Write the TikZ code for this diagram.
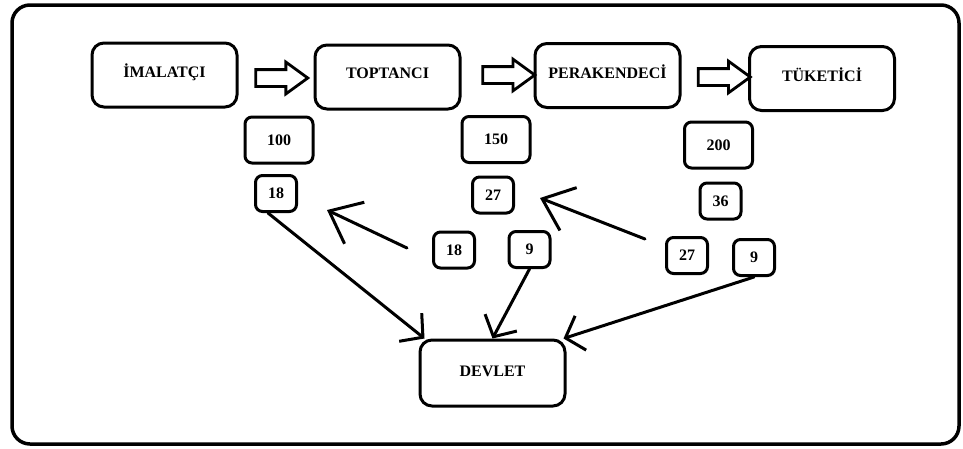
\documentclass[tikz,border=0pt]{standalone}
\usepackage{fontspec}
\setmainfont{Liberation Serif}
\usetikzlibrary{arrows.meta,shapes.arrows}

\begin{document}
\begin{tikzpicture}[x=1pt, y=-1pt,
  every node/.style={font=\bfseries\fontsize{16}{18}\selectfont},
  actor/.style={draw, line width=3pt, rounded corners=12pt, minimum width=145pt, minimum height=64pt, text depth=8pt},
  amount/.style={draw, line width=3pt, rounded corners=7pt, inner sep=0pt, minimum width=41pt, minimum height=36pt},
  bigamount/.style={amount, minimum width=68pt, minimum height=46pt},
  flow/.style={draw, line width=2.8pt, single arrow, single arrow head extend=7.5pt, single arrow tip angle=72, inner sep=7pt, minimum height=52pt},
  tax/.style={line width=3pt, line cap=round, -{Straight Barb[length=16pt, width=36pt]}},
  back/.style={line width=3pt, line cap=round, -{Straight Barb[length=28pt, width=46pt]}}]
  \useasboundingbox (0,0) rectangle (963,448);

  % Frame
  \draw[line width=3.5pt, rounded corners=18pt] (12,5) rectangle (959,444);

  % Chain
  \node[actor] (imal)  at (164.5,75)   {İMALATÇI};
  \node[actor] (topt)  at (387.5,77)   {TOPTANCI};
  \node[actor] (perak) at (607.5,75.5) {PERAKENDECİ};
  \node[actor] (tuket) at (822,78.5)   {TÜKETİCİ};

  % Flow arrows
  \node[flow] (a1) at (276,78)   {};
  \node[flow] (a2) at (503,75)   {};
  \node[flow] (a3) at (718.5,77) {};

  % Prices and taxes
  \node[bigamount] (v100) at (279,140)   {100};
  \node[amount]    (t18)  at (276,193.5) {18};
  \node[bigamount] (v150) at (496,139.5) {150};
  \node[amount]    (t27)  at (493,195)   {27};
  \node[bigamount] (v200) at (718.5,145) {200};
  \node[amount]    (t36)  at (720.5,201) {36};

  % Deductions and payments
  \node[amount] (m18) at (454,250)   {18};
  \node[amount] (m9)  at (529.5,249.5) {9};
  \node[amount] (r27) at (687,255.5) {27};
  \node[amount] (r9)  at (754,257.5) {9};

  % State
  \node[actor, minimum height=66pt, text depth=4pt] (devlet) at (492.5,373) {DEVLET};

  % Payments to the state
  \draw[tax] ([xshift=-8pt]t18.south) -- ([xshift=6pt]devlet.north west);
  \draw[tax] (m9.south) -- (devlet.north);
  \draw[tax] (r9.south) -- ([xshift=-3pt]devlet.north east);

  % Deduction arrows
  \coordinate (f1s) at (407,248);
  \coordinate (f1e) at (327,210);
  \coordinate (f2s) at (645,239);
  \coordinate (f2e) at (540,198);
  \draw[back] (f1s) -- (f1e);
  \draw[back] (f2s) -- (f2e);
\end{tikzpicture}
\end{document}
